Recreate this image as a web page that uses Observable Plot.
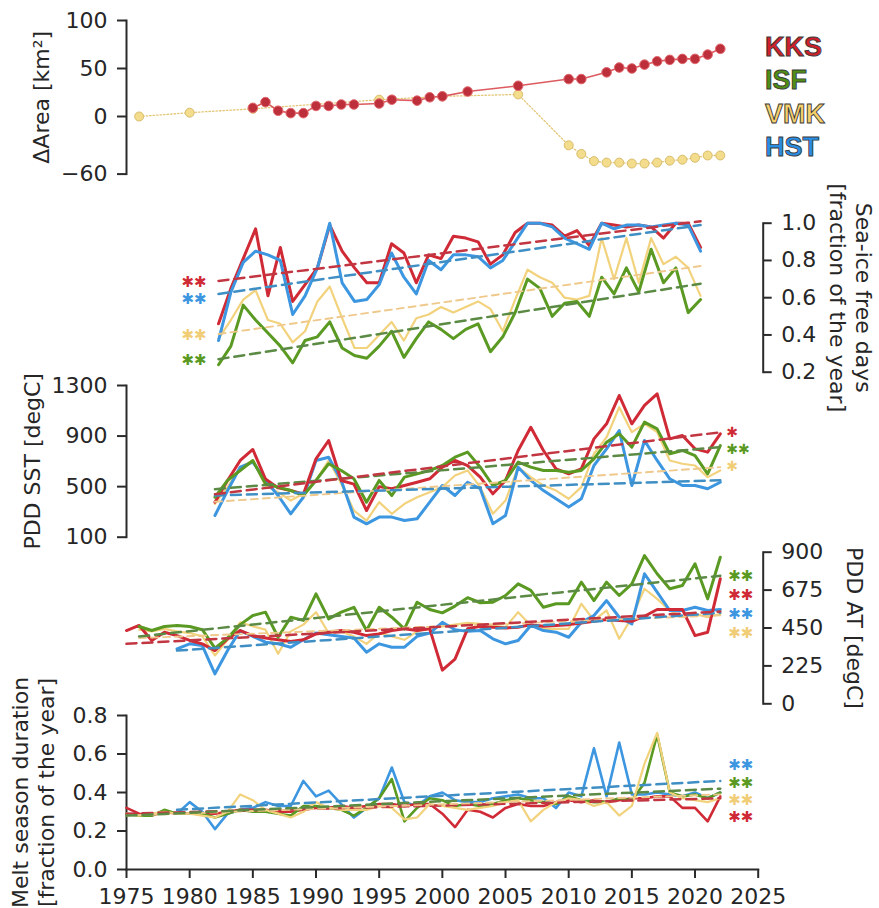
<!DOCTYPE html>
<html><head><meta charset="utf-8">
<script src="https://cdn.jsdelivr.net/npm/d3@7"></script>
<script src="https://cdn.jsdelivr.net/npm/@observablehq/plot@0.6"></script>
<style>
body{margin:0;background:#fff;}
#wrap{position:relative;width:879px;height:908px;overflow:hidden;background:#fff;}
#wrap svg{position:absolute;left:0;top:0;}
#legend{position:absolute;left:765px;top:30.6px;font:bold 27px "Liberation Sans",Arial,sans-serif;line-height:33.5px;-webkit-text-stroke:0.9px #3a3a3a;}
</style></head><body><div id="wrap"><div id="legend"></div></div>
<script>
// ---------------- DATA ----------------
const sites = ["KKS", "ISF", "VMK", "HST"];
const xTicks = [1975, 1980, 1985, 1990, 1995, 2000, 2005, 2010, 2015, 2020, 2025];

// Panel 1: ΔArea [km²]
const areaTicks = [100, 50, 0, -60];
const areaYearsKKS = [1985, 1986, 1987, 1988, 1989, 1990, 1991, 1992, 1993, 1995, 1996, 1998, 1999, 2000, 2002, 2006, 2010, 2011, 2013, 2014, 2015, 2016, 2017, 2018, 2019, 2020, 2021, 2022];
const areaKKS = [9, 15, 6, 3.5, 3.5, 11, 11, 12.5, 12.5, 13.5, 17.5, 16.5, 20, 21, 26, 32, 39, 39, 46, 51, 50, 54, 57.5, 59, 60, 60, 64.5, 70.5];
const areaYearsVMK = [1976, 1980, 1985, 1995, 2000, 2006, 2010, 2011, 2012, 2013, 2014, 2015, 2016, 2017, 2018, 2019, 2020, 2021, 2022];
const areaVMK = [0, 4, 8, 17.5, 21, 23, -30, -39, -46.5, -48, -48, -49, -49, -48, -46, -45, -43, -40.6, -40.6];

// Panel 2: Sea-ice free days (1982–2021)
const iceTicks = [1.0, 0.8, 0.6, 0.4, 0.2];
const iceYears = d3.range(1982, 2022);
const iceKKS = [0.46,0.65,0.81,0.97,0.61,0.87,0.58,0.67,0.76,0.99, 0.85,0.76,0.68,0.68,0.89,0.84,0.68,0.83,0.81,0.93, 0.92,0.90,0.78,0.83,0.95,1.0,1.0,0.99,0.93,0.96, 0.88,1.0,0.99,0.98,0.99,0.98,0.92,1.0,1.0,0.87];
const iceISF = [0.24,0.34,0.56,0.48,0.41,0.34,0.25,0.37,0.39,0.47, 0.33,0.29,0.275,0.34,0.42,0.28,0.38,0.47,0.43,0.38, 0.43,0.46,0.31,0.39,0.52,0.70,0.65,0.50,0.57,0.58, 0.50,0.71,0.62,0.76,0.63,0.86,0.68,0.76,0.52,0.59];
const iceVMK = [0.38,0.48,0.59,0.64,0.48,0.46,0.36,0.42,0.58,0.66, 0.49,0.33,0.33,0.40,0.47,0.37,0.49,0.51,0.55,0.52, 0.55,0.58,0.54,0.42,0.59,0.75,0.71,0.68,0.60,0.59, 0.61,0.92,0.70,0.92,0.68,0.92,0.78,0.82,0.76,0.61];
const iceHST = [0.37,0.63,0.79,0.85,0.83,0.80,0.51,0.61,0.76,1.0, 0.68,0.58,0.59,0.67,0.84,0.71,0.62,0.80,0.75,0.83, 0.83,0.82,0.76,0.80,0.90,1.0,1.0,0.98,0.92,0.89, 0.86,1.0,0.97,0.99,0.99,0.98,0.99,1.0,0.99,0.85];
const iceTrendStart = [0.69, 0.27, 0.405, 0.62];   // KKS, ISF, VMK, HST
const iceTrendEnd = [1.01, 0.675, 0.77, 0.99];
const iceStars = ["✱✱", "✱✱", "✱✱", "✱✱"];

// Panel 3: PDD SST (1982–2022)
const sstTicks = [1300, 900, 500, 100];
const sstYears = d3.range(1982, 2023);
const sstKKS = [377,549,707,794,560,490,470,440,720,865, 549,520,311,500,483,509,535,562,654,707, 667,575,443,549,786,970,786,641,601,641, 878,997,1221,997,1142,1234,878,905,799,773, 918];
const sstISF = [416,549,628,707,522,496,469,430,549,681, 628,562,377,549,430,575,601,628,667,733, 773,654,509,549,694,654,628,628,614,628, 720,852,918,812,1010,957,760,786,746,601, 825];
const sstVMK = [364,496,654,707,509,456,390,443,549,707, 522,311,232,377,285,364,416,456,496,588, 628,496,285,390,654,575,509,469,404,496, 760,891,1128,931,997,931,707,681,667,575, 628];
const sstHST = [272,469,654,694,549,430,285,416,707,733, 549,259,206,259,259,232,246,377,509,430, 535,483,206,272,654,549,469,404,338,404, 667,799,944,509,865,707,562,509,509,483, 535];
const sstTrendStart = [440, 480, 380, 430];
const sstTrendEnd = [930, 812, 654, 550];
const sstStars = ["✱", "✱✱", "✱", ""];

// Panel 4: PDD AT
const atTicks = [900, 675, 450, 225, 0];
const atFirstYear = [1975, 1976, 1976, 1979];
const atKKS = [435,465,376,425,405,376,356,316,386,435, 405,390,380,370,380,415,425,435,425,405, 415,435,445,435,445,200,265,445,460,455, 450,455,470,460,465,470,480,490,500,495, 490,520,560,560,560,405,425,742];
const atISF = [459,435,459,465,459,440,330,390,470,524, 544,395,514,495,653,504,544,573,435,573, 514,445,603,560,540,580,630,600,603,643, 712,673,573,594,594,722,613,722,643,712, 880,772,683,702,831,623,870];
const atVMK = [440,430,445,430,420,400,287,380,484,460, 440,297,430,470,544,420,430,400,356,420, 400,380,430,450,460,470,480,475,465,455, 544,465,445,445,445,594,495,554,386,514, 683,623,554,514,534,514,534];
const atHST = [326,356,346,178,316,435,400,366,356,336, 380,420,410,400,390,306,356,336,336,400, 420,484,440,430,435,386,356,376,465,435, 425,395,484,524,613,514,474,772,663,554, 554,573,554,560];
const atTrendStart = [356, 400, 390, 316];
const atTrendEnd = [548, 760, 525, 540];
const atStars = ["✱✱", "✱✱", "✱✱", "✱✱"];

// Panel 5: Melt season duration
const meltTicks = [0.8, 0.6, 0.4, 0.2, 0.0];
const meltFirstYear = [1975, 1975, 1975, 1979];
const meltKKS = [0.32,0.29,0.28,0.30,0.29,0.29,0.29,0.29,0.30,0.31, 0.31,0.31,0.30,0.30,0.31,0.32,0.32,0.33,0.32,0.33, 0.34,0.34,0.33,0.34,0.34,0.29,0.22,0.31,0.30,0.27, 0.32,0.34,0.33,0.33,0.35,0.36,0.35,0.36,0.35,0.36, 0.37,0.37,0.38,0.38,0.32,0.32,0.25,0.38];
const meltISF = [0.29,0.28,0.28,0.31,0.29,0.29,0.29,0.27,0.29,0.31, 0.30,0.30,0.29,0.28,0.33,0.33,0.32,0.31,0.28,0.32, 0.37,0.47,0.25,0.32,0.37,0.36,0.33,0.34,0.33,0.34, 0.36,0.37,0.36,0.35,0.34,0.38,0.36,0.35,0.35,0.37, 0.36,0.45,0.70,0.40,0.38,0.39,0.37,0.40];
const meltVMK = [0.29,0.28,0.29,0.30,0.29,0.29,0.28,0.27,0.30,0.39, 0.36,0.31,0.29,0.27,0.30,0.35,0.32,0.31,0.31,0.31, 0.33,0.32,0.26,0.27,0.34,0.33,0.32,0.31,0.32,0.33, 0.35,0.36,0.25,0.31,0.35,0.37,0.36,0.33,0.35,0.28, 0.33,0.55,0.71,0.40,0.37,0.36,0.35,0.37];
const meltHST = [0.29,0.35,0.30,0.21,0.29,0.31,0.32,0.35,0.33,0.33, 0.46,0.38,0.41,0.34,0.27,0.32,0.37,0.53,0.35,0.33, 0.38,0.40,0.36,0.35,0.35,0.37,0.38,0.39,0.37,0.37, 0.32,0.40,0.38,0.63,0.38,0.66,0.39,0.39,0.40,0.39, 0.38,0.40,0.37,0.40];
const meltTrendStart = [0.29, 0.28, 0.28, 0.31];
const meltTrendEnd = [0.37, 0.42, 0.39, 0.46];
const meltStars = ["✱✱", "✱✱", "✱✱", "✱✱"];

// ---------------- STYLE ----------------
const W = 879, H = 908;
const LINE = {KKS: "#cf2a36", ISF: "#5a9a22", VMK: "#f2d27c", HST: "#3d96e0"};
const TREND = {KKS: "#c23642", ISF: "#5b8a45", VMK: "#efc98c", HST: "#3f8fc4"};
const STAR = {KKS: "#cf2a36", ISF: "#5a9a22", VMK: "#f0cd76", HST: "#3d96e0"};
const LEG = {KKS: "#d0202a", ISF: "#4f8f14", VMK: "#f7d06c", HST: "#2a8ee6"};
const TXT = "#262626", AX = "#2a2a2a";
const FONT = "DejaVu Sans";
const baseStyle = {background: "transparent", fontFamily: FONT, fontSize: "22px", color: TXT, overflow: "visible"};

const rowsOf = (years, values) => values.map((v, i) => ({year: years[i], value: v}));
const fmtMinus = d => d < 0 ? "\u2212" + Math.abs(d) : String(d);
const fmtInt = d => String(d);
const fmt1 = d => d.toFixed(1);

// generic panel
function panel({top, bottom, yDomain, yTicks, tickFormat, anchor, xRange, label, labelDx, labelRotate, marks, xAxis}) {
  const right = anchor === "right" ? 762.7 : 757.7;
  const axisMarks = [
    Plot.frame({anchor, stroke: AX, strokeWidth: 2}),
    Plot.axisY({anchor, ticks: yTicks, tickFormat, tickSize: anchor === "right" ? 8 : 9, tickPadding: 10,
      fontSize: 22, stroke: AX, strokeWidth: 2, fill: TXT, label: null})
  ];
  if (xAxis) {
    axisMarks.push(Plot.frame({anchor: "bottom", stroke: AX, strokeWidth: 2}));
    axisMarks.push(Plot.axisX({ticks: xTicks, tickFormat: d => String(d), tickSize: 9, tickPadding: 10,
      fontSize: 22, stroke: AX, strokeWidth: 2, fill: TXT, label: null}));
  }
  axisMarks.push(Plot.text([label], {text: d => d, frameAnchor: anchor, dx: labelDx, rotate: labelRotate,
    textAnchor: "middle", lineAnchor: "middle", fontSize: 22, lineHeight: 1.2, fill: TXT}));
  const xOpt = {domain: [1975, 2025], range: xRange || [126, 757.7]};
  if (!xAxis) xOpt.axis = null;
  return Plot.plot({
    width: W, height: H,
    marginLeft: 126, marginRight: W - right, marginTop: top, marginBottom: H - bottom,
    x: xOpt,
    y: {domain: yDomain},
    style: baseStyle,
    marks: [...axisMarks, ...marks]
  });
}

function seriesMarks(seriesBySite, order, widths) {
  return order.map(s => Plot.line(seriesBySite[s], {x: "year", y: "value", stroke: LINE[s],
    strokeWidth: widths[s], strokeLinejoin: "round", strokeLinecap: "round"}));
}
function trendRows(firstYears, lastYear, starts, ends) {
  const out = {};
  sites.forEach((s, i) => {
    out[s] = [{year: firstYears[i], value: starts[i]}, {year: lastYear, value: ends[i]}];
  });
  return out;
}
function trendMarks(trends, order) {
  return order.map(s => Plot.line(trends[s], {x: "year", y: "value", stroke: TREND[s],
    strokeWidth: s === "VMK" ? 1.9 : 2.5, strokeDasharray: s === "VMK" ? "7,5" : "10,6"}));
}
// star labels placed at one end of each trend, stacked (evenly) or decluttered (min gap)
function trendStars(trends, stars, yDomain, top, bottom, spacing, dx, end, mode, size) {
  const yPix = d3.scaleLinear().domain(yDomain).range([bottom, top]);
  const items = sites.map((s, i) => ({s, txt: stars[i], row: trends[s][end]}))
    .filter(d => d.txt);
  items.forEach(d => { d.p = yPix(d.row.value); });
  items.sort((a, b) => a.p - b.p);
  if (mode === "even") {
    const mean = d3.mean(items, d => d.p);
    items.forEach((d, k) => { d.t = mean + (k - (items.length - 1) / 2) * spacing; });
  } else {
    items.forEach((d, k) => { d.t = k === 0 ? d.p : Math.max(d.p, items[k - 1].t + spacing); });
  }
  return items.map(d => Plot.text([d.row], {x: "year", y: "value", text: () => d.txt, fill: STAR[d.s],
    fontSize: size || 15, textAnchor: end === 1 ? "start" : "end", dx, dy: d.t - d.p + 1}));
}

const wrap = document.getElementById("wrap");

// ---- Panel 1 ----
{
  const kks = rowsOf(areaYearsKKS, areaKKS);
  const vmk = rowsOf(areaYearsVMK, areaVMK);
  wrap.append(panel({
    top: 20, bottom: 173.6, yDomain: [-60, 100], yTicks: areaTicks, tickFormat: fmtMinus, anchor: "left",
    label: "ΔArea [km²]", labelDx: -86, labelRotate: -90,
    marks: [
      Plot.line(vmk, {x: "year", y: "value", stroke: "#e3c676", strokeWidth: 1.3, strokeDasharray: "1.5,2"}),
      Plot.dot(vmk, {x: "year", y: "value", r: 4.5, fill: "#f3dc8c", stroke: "#d8bd6c", strokeWidth: 1}),
      Plot.line(kks, {x: "year", y: "value", stroke: "#dd5a5f", strokeWidth: 1.6}),
      Plot.dot(kks, {x: "year", y: "value", r: 4.8, fill: "#bd2f3a", stroke: "#e2686e", strokeWidth: 1})
    ]
  }));
}

// ---- Panel 2 ----
{
  const ser = {KKS: rowsOf(iceYears, iceKKS), ISF: rowsOf(iceYears, iceISF), VMK: rowsOf(iceYears, iceVMK), HST: rowsOf(iceYears, iceHST)};
  const tr = trendRows(sites.map(() => iceYears[0]), iceYears[iceYears.length - 1], iceTrendStart, iceTrendEnd);
  wrap.append(panel({
    top: 222.7, bottom: 371.7, yDomain: [0.2, 1.0], yTicks: iceTicks, tickFormat: fmt1, anchor: "right",
    xRange: [131.5, 749.5],
    label: "Sea-ice free days\n[fraction of the year]", labelDx: 88.5, labelRotate: 90,
    marks: [
      ...seriesMarks(ser, ["VMK", "ISF", "KKS", "HST"], {VMK: 2.2, ISF: 3, KKS: 3, HST: 3}),
      ...trendMarks(tr, ["VMK", "ISF", "HST", "KKS"]),
      ...trendStars(tr, iceStars, [0.2, 1.0], 222.7, 371.7, 17, -12, 0, "declutter")
    ]
  }));
}

// ---- Panel 3 ----
{
  const ser = {KKS: rowsOf(sstYears, sstKKS), ISF: rowsOf(sstYears, sstISF), VMK: rowsOf(sstYears, sstVMK), HST: rowsOf(sstYears, sstHST)};
  const tr = trendRows(sites.map(() => sstYears[0]), sstYears[sstYears.length - 1], sstTrendStart, sstTrendEnd);
  wrap.append(panel({
    top: 385, bottom: 536.7, yDomain: [100, 1300], yTicks: sstTicks, tickFormat: fmtInt, anchor: "left",
    label: "PDD SST [degC]", labelDx: -95, labelRotate: -90,
    marks: [
      ...seriesMarks(ser, ["VMK", "HST", "KKS", "ISF"], {VMK: 2.2, ISF: 3, KKS: 3, HST: 3}),
      ...trendMarks(tr, ["VMK", "HST", "ISF", "KKS"]),
      ...trendStars(tr, sstStars, [100, 1300], 385, 536.7, 17, 6, 1, "even", 14)
    ]
  }));
}

// ---- Panel 4 ----
{
  const ser = {};
  const raw = {KKS: atKKS, ISF: atISF, VMK: atVMK, HST: atHST};
  sites.forEach((s, i) => { ser[s] = rowsOf(d3.range(atFirstYear[i], 2023), raw[s]); });
  const tr = trendRows(atFirstYear, 2022, atTrendStart, atTrendEnd);
  wrap.append(panel({
    top: 551.7, bottom: 703.3, yDomain: [0, 900], yTicks: atTicks, tickFormat: fmtInt, anchor: "right",
    label: "PDD AT [degC]", labelDx: 92, labelRotate: 90,
    marks: [
      ...seriesMarks(ser, ["VMK", "HST", "KKS", "ISF"], {VMK: 2.2, ISF: 3, KKS: 3, HST: 3}),
      ...trendMarks(tr, ["VMK", "HST", "KKS", "ISF"]),
      ...trendStars(tr, atStars, [0, 900], 551.7, 703.3, 19, 8, 1, "even")
    ]
  }));
}

// ---- Panel 5 ----
{
  const ser = {};
  const raw = {KKS: meltKKS, ISF: meltISF, VMK: meltVMK, HST: meltHST};
  sites.forEach((s, i) => { ser[s] = rowsOf(d3.range(meltFirstYear[i], 2023), raw[s]); });
  const tr = trendRows(meltFirstYear, 2022, meltTrendStart, meltTrendEnd);
  wrap.append(panel({
    top: 715, bottom: 869, yDomain: [0, 0.8], yTicks: meltTicks, tickFormat: fmt1, anchor: "left",
    label: "Melt season duration\n[fraction of the year]", labelDx: -94, labelRotate: -90, xAxis: true,
    marks: [
      ...seriesMarks(ser, ["HST", "KKS", "ISF", "VMK"], {VMK: 2.2, ISF: 2.6, KKS: 2.6, HST: 2.6}),
      ...trendMarks(tr, ["KKS", "VMK", "ISF", "HST"]),
      ...trendStars(tr, meltStars, [0, 0.8], 715, 869, 17.3, 8, 1, "even")
    ]
  }));
}

// ---- Legend ----
const legend = document.getElementById("legend");
sites.forEach(s => {
  const d = document.createElement("div");
  d.textContent = s;
  d.style.color = LEG[s];
  legend.append(d);
});
wrap.append(legend);
</script>
</body></html>
